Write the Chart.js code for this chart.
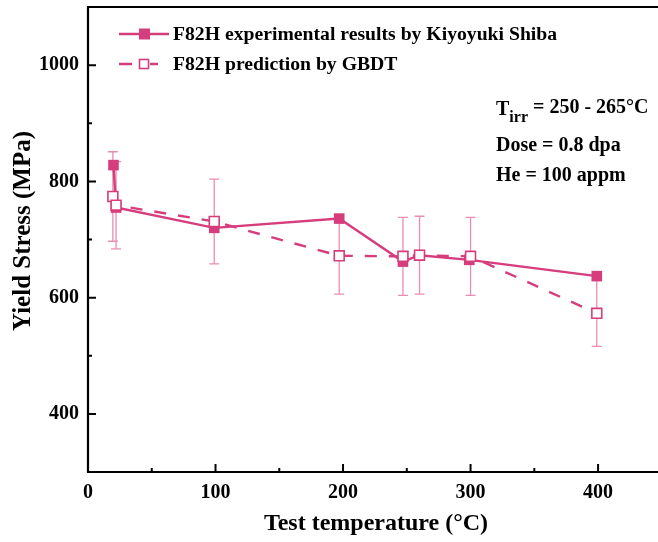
<!DOCTYPE html>
<html>
<head>
<meta charset="utf-8">
<script src="https://cdn.jsdelivr.net/npm/chart.js@4.4.1/dist/chart.umd.min.js"></script>
<style>
  body { margin: 0; background: #fff; }
  canvas { display: block; }
</style>
</head>
<body>
<canvas id="chart" width="658" height="542"></canvas>
<script>
// data
const expLabel = 'F82H experimental results by Kiyoyuki Shiba';
const expTemp = [20, 22, 99, 197, 247, 260, 299, 399];
const expStress = [828, 755, 720, 736, 662, 673, 665, 637];

const predLabel = 'F82H prediction by GBDT';
const predTemp = [19.5, 22, 99, 197, 247, 260, 300, 399];
const predStress = [774, 759, 731, 672, 671, 673, 671, 573];
const predError = [77, 75, 73, 66, 67, 67, 67, 57];

const xTicks = [0, 100, 200, 300, 400];
const xMinor = [50, 150, 250, 350];
const yTicks = [400, 600, 800, 1000];
const yMinor = [500, 700, 900];

const noteLines = ['Dose = 0.8 dpa', 'He = 100 appm'];

const PINK = '#d63d7d';
const PINK_LIGHT = '#ea8db4';
const FONT = '"Liberation Serif", "Times New Roman", serif';

const toPoints = (xs, ys) => xs.map((x, i) => ({ x: x, y: ys[i] }));

// error bars, axes frame, inward ticks, titles, legend, annotation
const decorPlugin = {
    id: 'decor',
    beforeDatasetsDraw(chart) {
        const ctx = chart.ctx;
        const xs = chart.scales.x, ys = chart.scales.y;
        ctx.save();
        ctx.strokeStyle = PINK_LIGHT;
        ctx.lineWidth = 1.3;
        predTemp.forEach((t, i) => {
            const px = xs.getPixelForValue(t);
            const top = ys.getPixelForValue(predStress[i] + predError[i]);
            const bot = ys.getPixelForValue(predStress[i] - predError[i]);
            ctx.beginPath();
            ctx.moveTo(px, top); ctx.lineTo(px, bot);
            ctx.moveTo(px - 5, top); ctx.lineTo(px + 5, top);
            ctx.moveTo(px - 5, bot); ctx.lineTo(px + 5, bot);
            ctx.stroke();
        });
        ctx.restore();
    },
    afterDraw(chart) {
        const ctx = chart.ctx;
        const area = chart.chartArea;
        const xs = chart.scales.x, ys = chart.scales.y;
        ctx.save();

        // frame
        ctx.strokeStyle = '#000';
        ctx.lineWidth = 2.2;
        ctx.beginPath();
        ctx.moveTo(area.right + 2, area.top);
        ctx.lineTo(area.left, area.top);
        ctx.lineTo(area.left, area.bottom);
        ctx.lineTo(area.right + 2, area.bottom);
        ctx.stroke();

        // inward ticks
        ctx.lineWidth = 2;
        ctx.beginPath();
        xTicks.forEach(v => { const p = xs.getPixelForValue(v); ctx.moveTo(p, area.bottom); ctx.lineTo(p, area.bottom - 8); });
        xMinor.forEach(v => { const p = xs.getPixelForValue(v); ctx.moveTo(p, area.bottom); ctx.lineTo(p, area.bottom - 4); });
        yTicks.forEach(v => { const p = ys.getPixelForValue(v); ctx.moveTo(area.left, p); ctx.lineTo(area.left + 8, p); });
        yMinor.forEach(v => { const p = ys.getPixelForValue(v); ctx.moveTo(area.left, p); ctx.lineTo(area.left + 4, p); });
        ctx.stroke();

        // axis titles
        ctx.fillStyle = '#000';
        ctx.font = 'bold 24px ' + FONT;
        ctx.textAlign = 'center';
        ctx.textBaseline = 'middle';
        ctx.fillText('Test temperature (\u00B0C)', 376, 524);
        ctx.save();
        ctx.translate(24, 231);
        ctx.rotate(-Math.PI / 2);
        ctx.font = 'bold 25px ' + FONT;
        ctx.fillText('Yield Stress (MPa)', 0, 0);
        ctx.restore();

        // legend
        ctx.font = 'bold 19.7px ' + FONT;
        ctx.textAlign = 'left';
        const items = [
            { label: expLabel, dashed: false, filled: true, y: 34 },
            { label: predLabel, dashed: true, filled: false, y: 64 }
        ];
        items.forEach(it => {
            ctx.strokeStyle = PINK;
            ctx.lineWidth = 2.4;
            ctx.beginPath();
            if (it.dashed) {
                ctx.moveTo(119, it.y); ctx.lineTo(132, it.y);
                ctx.moveTo(150, it.y); ctx.lineTo(158, it.y);
            } else {
                ctx.moveTo(119, it.y); ctx.lineTo(169, it.y);
            }
            ctx.stroke();
            if (it.filled) {
                ctx.fillStyle = PINK;
                ctx.fillRect(139, it.y - 5.5, 11, 11);
            } else {
                ctx.fillStyle = '#fff';
                ctx.fillRect(139.5, it.y - 4.5, 9, 9);
                ctx.lineWidth = 1.6;
                ctx.strokeRect(139.5, it.y - 4.5, 9, 9);
            }
            ctx.fillStyle = '#000';
            ctx.fillText(it.label, 173, it.y + 1);
        });

        // annotation
        let x = 496;
        ctx.font = 'bold 20px ' + FONT;
        ctx.fillText('T', x, 110);
        x += ctx.measureText('T').width;
        ctx.font = 'bold 16px ' + FONT;
        ctx.fillText('irr', x, 118);
        x += ctx.measureText('irr').width;
        ctx.font = 'bold 20px ' + FONT;
        ctx.fillText(' = 250 - 265\u00B0C', x, 108);
        noteLines.forEach((s, i) => ctx.fillText(s, 496, 146 + i * 30));

        ctx.restore();
    }
};

const tickFont = { family: FONT, size: 20, weight: 'bold' };

new Chart(document.getElementById('chart'), {
    type: 'scatter',
    data: {
        datasets: [
            {
                label: expLabel,
                data: toPoints(expTemp, expStress),
                showLine: true,
                borderColor: PINK,
                backgroundColor: PINK,
                borderWidth: 2.4,
                pointStyle: 'rect',
                pointRadius: 7.5,
                pointBorderWidth: 0,
                order: 2
            },
            {
                label: predLabel,
                data: toPoints(predTemp, predStress),
                showLine: true,
                borderColor: PINK,
                borderDash: [12, 12],
                backgroundColor: '#fff',
                borderWidth: 2.4,
                pointStyle: 'rect',
                pointRadius: 7,
                pointBorderWidth: 1.6,
                order: 1
            }
        ]
    },
    options: {
        responsive: false,
        animation: false,
        events: [],
        layout: { autoPadding: false, padding: { top: 7, right: 0, left: 0, bottom: 0 } },
        plugins: { legend: { display: false }, tooltip: { enabled: false } },
        scales: {
            x: {
                type: 'linear',
                min: 0,
                max: 447,
                grid: { display: false, drawTicks: false },
                border: { display: false },
                afterBuildTicks: s => { s.ticks = xTicks.map(v => ({ value: v })); },
                afterFit: s => { s.height = 70; s.paddingLeft = 0; s.paddingRight = 0; },
                ticks: { color: '#000', padding: 9, font: tickFont, maxRotation: 0, callback: v => String(v) }
            },
            y: {
                min: 300,
                max: 1100,
                grid: { display: false, drawTicks: false },
                border: { display: false },
                afterBuildTicks: s => { s.ticks = yTicks.map(v => ({ value: v })); },
                afterFit: s => { s.width = 88; s.paddingTop = 0; s.paddingBottom = 0; },
                ticks: { color: '#000', padding: 9, font: tickFont, callback: v => String(v) }
            }
        }
    },
    plugins: [decorPlugin]
});
</script>
</body>
</html>
